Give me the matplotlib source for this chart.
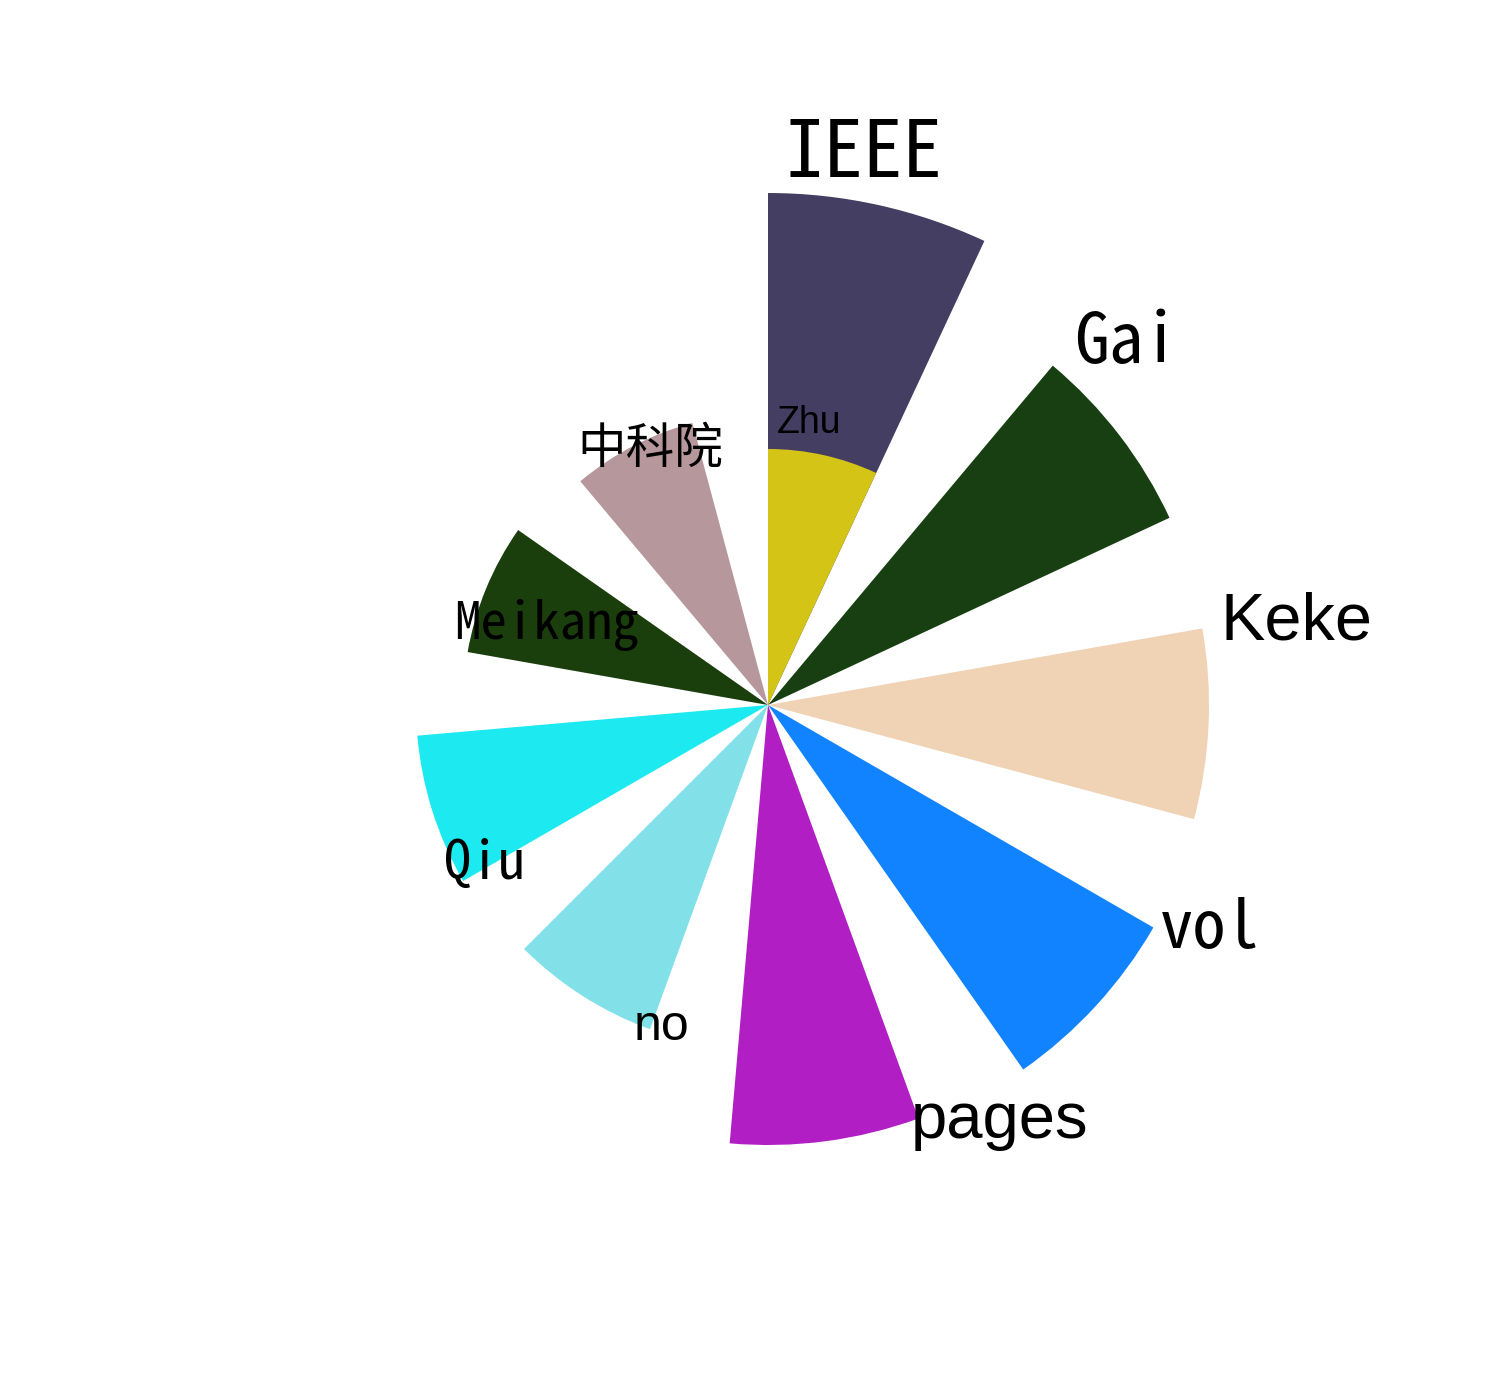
import numpy as np
import matplotlib.pyplot as plt

# ---------------------------------------------------------------
#                        DATA
# ---------------------------------------------------------------
words = ["IEEE", "Gai", "Keke", "vol", "pages", "no", "Qiu", "Meikang", "中科院"]
counts = [512, 443, 441, 445, 440, 345, 352, 305, 292]
colors = ["#453e63", "#173f12", "#f0d2b4", "#1283ff", "#b01ec4",
          "#82e1e8", "#1deaf0", "#1a3e0c", "#b5979c"]
sizes = [57, 50, 48, 48, 47, 36, 39, 38, 35]

inner_word = "Zhu"
inner_count = 256
inner_color = "#d4c416"
inner_size = 27

mono = ["Noto Sans Mono CJK SC", "DejaVu Sans Mono"]
sans = ["Liberation Sans", "DejaVu Sans"]
cjk = ["Noto Sans CJK SC", "DejaVu Sans"]
fonts = [mono, mono, sans, mono, sans, sans, mono, mono, cjk]

# ---------------------------------------------------------------
#                        PLOT
# ---------------------------------------------------------------
fig = plt.figure(figsize=(15, 14), dpi=100)
rmax = 600
ax = fig.add_axes([(768 - rmax) / 1500, (1400 - 705 - rmax) / 1400,
                   2 * rmax / 1500, 2 * rmax / 1400], projection="polar")
ax.set_theta_zero_location("N")
ax.set_theta_direction(-1)

step = 2 * np.pi / len(words)
width = np.deg2rad(25)
theta = np.arange(len(words)) * step

ax.bar(theta, counts, width=width, align="edge", color=colors, linewidth=0)
ax.bar(theta[0], inner_count, width=width, align="edge", color=inner_color, linewidth=0)

shift = np.deg2rad(1.8)
for t, h, w, c, s, f in zip(theta, counts, words, colors, sizes, fonts):
    ax.text(t + shift, h + 16, w, fontsize=s, family=f, ha="left", va="baseline")
ax.text(theta[0] + shift, inner_count + 16, inner_word, fontsize=inner_size,
        family=sans, ha="left", va="baseline")

ax.set_ylim(0, rmax)
ax.axis("off")

plt.savefig("out.png", dpi=100)
